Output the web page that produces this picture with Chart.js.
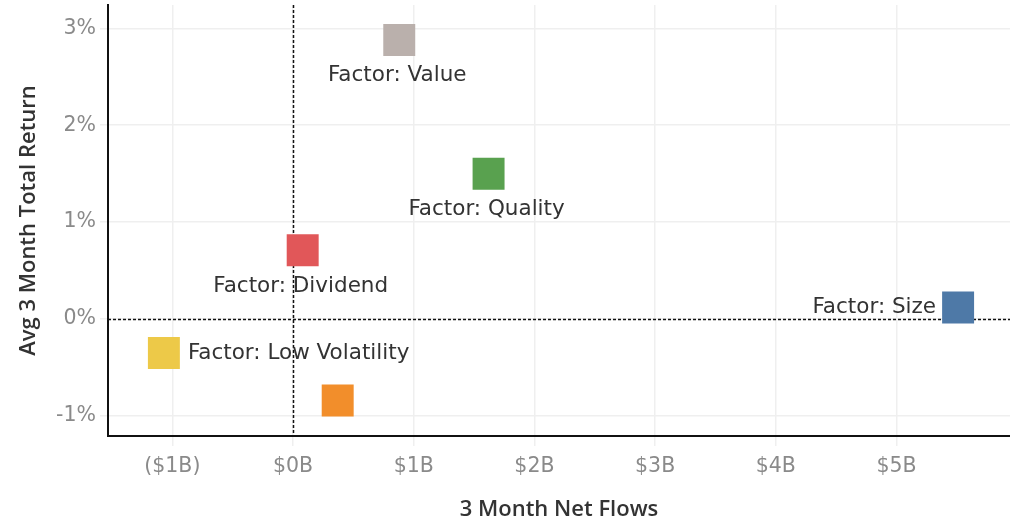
<!DOCTYPE html>
<html>
<head>
<meta charset="utf-8">
<script src="https://cdn.jsdelivr.net/npm/chart.js@4"></script>
<style>
  html, body { margin: 0; padding: 0; background: #fff; }
  #wrap { width: 1010px; height: 523px; }
</style>
</head>
<body>
<div id="wrap"><canvas id="scatterChart"></canvas></div>
<script>
// data
const factors = ['Factor: Value', 'Factor: Quality', 'Factor: Dividend', 'Factor: Size', 'Factor: Low Volatility', ''];
const netFlows = [0.88, 1.62, 0.08, 5.51, -1.07, 0.37];      // $B
const totalReturn = [2.88, 1.50, 0.71, 0.12, -0.35, -0.84];  // %
const colors = ['#bab0ac', '#59a14f', '#e15759', '#4e79a7', '#edc948', '#f28e2b'];
const labelSide = ['below', 'below', 'below', 'left', 'right', 'none'];

const FONT = "'DejaVu Sans', sans-serif";
const TITLE_FONT = "'Open Sans', sans-serif";

const noPad = () => ({left: 0, right: 0, top: 0, bottom: 0});

const refLines = {
    id: 'refLines',
    beforeDatasetsDraw(chart) {
        const {ctx, chartArea: a, scales: {x, y}} = chart;
        ctx.save();
        ctx.strokeStyle = '#111';
        ctx.lineWidth = 1.5;
        ctx.setLineDash([3, 2]);
        const x0 = Math.round(x.getPixelForValue(0)) + 0.5;
        const y0 = Math.round(y.getPixelForValue(0)) + 0.5;
        ctx.beginPath();
        ctx.moveTo(x0, a.top); ctx.lineTo(x0, a.bottom);
        ctx.moveTo(a.left, y0); ctx.lineTo(a.right, y0);
        ctx.stroke();
        ctx.restore();
    }
};

const pointLabels = {
    id: 'pointLabels',
    afterDatasetsDraw(chart) {
        const ctx = chart.ctx;
        const meta = chart.getDatasetMeta(0);
        ctx.save();
        ctx.font = '21.5px ' + FONT;
        ctx.fillStyle = '#333';
        meta.data.forEach((pt, i) => {
            const side = labelSide[i];
            if (side === 'none' || !factors[i]) return;
            if (side === 'below') {
                ctx.textAlign = 'center'; ctx.textBaseline = 'middle';
                ctx.fillText(factors[i], pt.x - 2, pt.y + 36);
            } else if (side === 'left') {
                ctx.textAlign = 'right'; ctx.textBaseline = 'middle';
                ctx.fillText(factors[i], pt.x - 22, pt.y);
            } else {
                ctx.textAlign = 'left'; ctx.textBaseline = 'middle';
                ctx.fillText(factors[i], pt.x + 24, pt.y);
            }
        });
        ctx.restore();
    }
};

const ctx = document.getElementById('scatterChart').getContext('2d');
const myChart = new Chart(ctx, {
    type: 'scatter',
    data: {
        labels: factors,
        datasets: [{
            data: netFlows.map((v, i) => ({x: v, y: totalReturn[i]})),
            backgroundColor: colors,
            borderWidth: 0,
            pointStyle: 'rect',
            pointRadius: 22.6,
            pointHoverRadius: 22.6
        }]
    },
    options: {
        responsive: true,
        maintainAspectRatio: false,
        animation: false,
        layout: { autoPadding: false, padding: { top: 5, right: 0, left: 0, bottom: 0 } },
        plugins: {
            legend: { display: false },
            tooltip: { enabled: false }
        },
        scales: {
            x: {
                type: 'linear',
                min: -1.533,
                max: 5.94,
                afterFit(s) { s.height = 87; s.getPadding = noPad; },
                border: { color: '#111', width: 2 },
                grid: { color: '#efefef', lineWidth: 1.5, tickLength: 10, tickColor: '#efefef' },
                ticks: {
                    stepSize: 1,
                    includeBounds: false,
                    color: '#8a8a8a',
                    padding: 8,
                    font: { family: FONT, size: 20.5 },
                    callback: v => v < 0 ? '($' + (-v) + 'B)' : '$' + v + 'B'
                },
                title: {
                    display: true,
                    text: '3 Month Net Flows',
                    color: '#333',
                    font: { family: TITLE_FONT, size: 22, weight: '600' },
                    padding: { top: 21, bottom: 0 }
                }
            },
            y: {
                min: -1.206,
                max: 3.24,
                afterFit(s) { s.width = 108; s.getPadding = noPad; },
                border: { color: '#111', width: 2 },
                grid: { color: '#efefef', lineWidth: 1.5, tickLength: 8, tickColor: '#efefef' },
                ticks: {
                    stepSize: 1,
                    includeBounds: false,
                    color: '#8a8a8a',
                    padding: 4,
                    font: { family: FONT, size: 20.5 },
                    callback: v => v + '%'
                },
                title: {
                    display: true,
                    text: 'Avg 3 Month Total Return',
                    color: '#333',
                    font: { family: TITLE_FONT, size: 22, weight: '600' },
                    padding: { top: 16, bottom: 0 }
                }
            }
        }
    },
    plugins: [refLines, pointLabels]
});
</script>
</body>
</html>
